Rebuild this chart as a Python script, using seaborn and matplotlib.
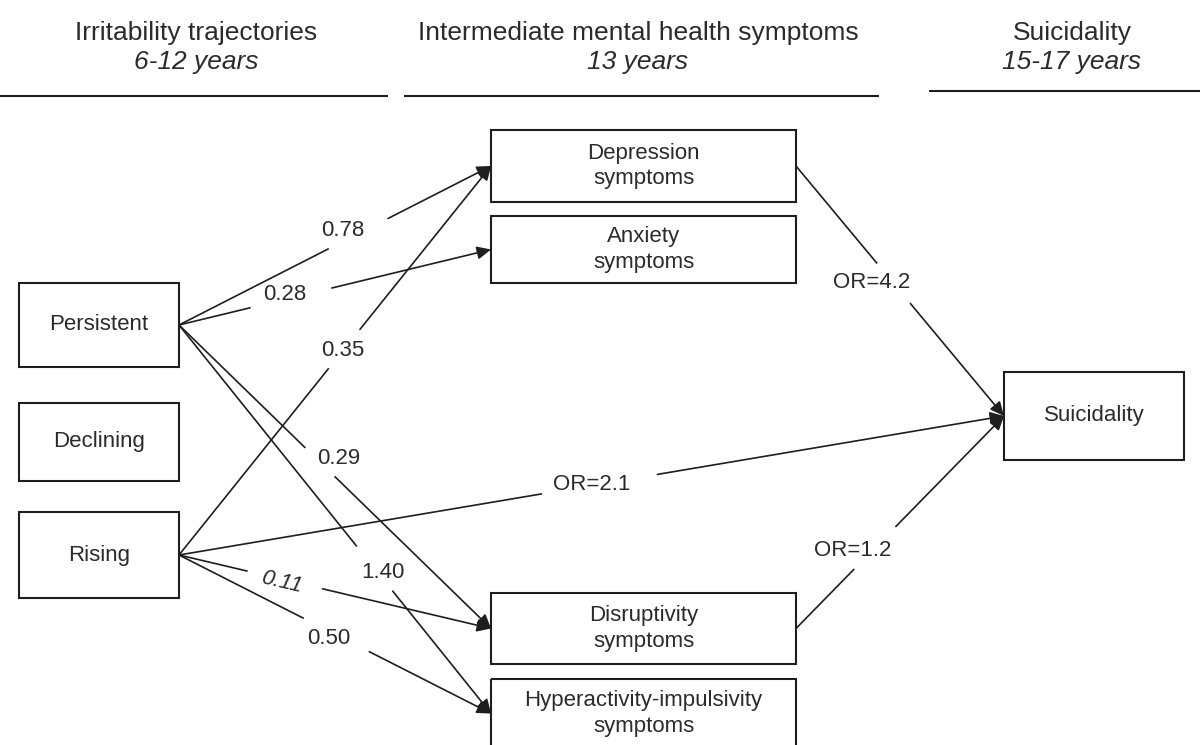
#### Path diagram: irritability trajectories -> mental health symptoms -> suicidality ####
import matplotlib
matplotlib.use("Agg")
import matplotlib.pyplot as plt
from matplotlib.patches import Rectangle
import seaborn as sns

# Diagram content
column_titles = ["Irritability trajectories", "Intermediate mental health symptoms", "Suicidality"]
column_ages = ["6-12 years", "13 years", "15-17 years"]

trajectory_nodes = ["Persistent", "Declining", "Rising"]
symptom_nodes = ["Depression\nsymptoms", "Anxiety\nsymptoms", "Disruptivity\nsymptoms",
                 "Hyperactivity-impulsivity\nsymptoms"]
outcome_nodes = ["Suicidality"]

edge_sources = ["Persistent", "Persistent", "Rising", "Persistent", "Persistent",
                "Rising", "Rising", "Rising", "Depression\nsymptoms", "Disruptivity\nsymptoms"]
edge_targets = ["Depression\nsymptoms", "Anxiety\nsymptoms", "Depression\nsymptoms",
                "Disruptivity\nsymptoms", "Hyperactivity-impulsivity\nsymptoms",
                "Disruptivity\nsymptoms", "Hyperactivity-impulsivity\nsymptoms",
                "Suicidality", "Suicidality", "Suicidality"]
edge_labels = ["0.78", "0.28", "0.35", "0.29", "1.40", "0.11", "0.50", "OR=2.1", "OR=4.2", "OR=1.2"]
edge_nonsig = [False, False, False, False, False, True, False, False, False, False]

### Layout (pixel coordinates, y down) ###
box_xy = {
    "Persistent": (19, 283, 179, 367),
    "Declining": (19, 403, 179, 481),
    "Rising": (19, 512, 179, 598),
    "Depression\nsymptoms": (491, 130, 796, 202),
    "Anxiety\nsymptoms": (491, 216, 796, 283),
    "Disruptivity\nsymptoms": (491, 593, 796, 664),
    "Hyperactivity-impulsivity\nsymptoms": (491, 679, 796, 748),
    "Suicidality": (1004, 372, 1184, 460),
}
# where each label breaks its line (fraction along edge) and where the text sits
gap_t = [(0.48, 0.67), (0.23, 0.49), (0.48, 0.58), (0.405, 0.50), (0.57, 0.685),
         (0.22, 0.46), (0.40, 0.61), (0.44, 0.58), (0.39, 0.55), (0.28, 0.48)]
label_xy = [(343, 231), (285, 294), (343, 350), (339, 459), (383, 572),
            (282, 582), (329, 638), (592, 484), (872, 283), (853, 550)]
title_x = [196, 638, 1072]
rule_spans = [(0, 388, 96), (404, 879, 96), (929, 1200, 91)]

sns.set_theme(style="white")
plt.rcParams['font.family'] = ['Liberation Sans', 'DejaVu Sans']

ink = "#1e1e1e"
txt = "#2b2b2b"

fig = plt.figure(figsize=(12, 7.45), dpi=100)
ax = fig.add_axes([0, 0, 1, 1])
ax.set_xlim(0, 1200)
ax.set_ylim(745, 0)
ax.axis("off")

# Column headers
for x, title, age in zip(title_x, column_titles, column_ages):
    ax.text(x, 33, title, ha="center", va="center", fontsize=19, color=txt)
    ax.text(x, 62, age, ha="center", va="center", fontsize=19, color=txt, style="italic")
for x0, x1, y in rule_spans:
    ax.plot([x0, x1], [y, y], color=ink, lw=1.5, solid_capstyle="butt")

# Boxes
for name in trajectory_nodes + symptom_nodes + outcome_nodes:
    x0, y0, x1, y1 = box_xy[name]
    ax.add_patch(Rectangle((x0, y0), x1 - x0, y1 - y0, fill=False, ec=ink, lw=1.5))
    ax.text((x0 + x1) / 2, (y0 + y1) / 2, name, ha="center", va="center",
            fontsize=16, color=txt, linespacing=1.3)


def right_mid(name):
    x0, y0, x1, y1 = box_xy[name]
    return x1, (y0 + y1) / 2


def left_mid(name):
    x0, y0, x1, y1 = box_xy[name]
    return x0, (y0 + y1) / 2


# Paths
for src, dst, lab, (t0, t1), (lx, ly), ns in zip(edge_sources, edge_targets, edge_labels,
                                                 gap_t, label_xy, edge_nonsig):
    sx, sy = right_mid(src)
    ex, ey = left_mid(dst)
    ax_, ay_ = sx + (ex - sx) * t0, sy + (ey - sy) * t0
    bx, by = sx + (ex - sx) * t1, sy + (ey - sy) * t1
    ax.plot([sx, ax_], [sy, ay_], color=ink, lw=1.2, solid_capstyle="butt")
    ax.annotate("", xy=(ex, ey), xytext=(bx, by),
                arrowprops=dict(arrowstyle="-|>,head_length=0.6,head_width=0.28",
                                color=ink, lw=1.2, mutation_scale=14,
                                shrinkA=0, shrinkB=0))
    ax.text(lx, ly, lab, ha="center", va="center", fontsize=16, color=txt,
            style="italic" if ns else "normal", rotation=-13 if ns else 0)

fig.savefig("out.png", dpi=100)
